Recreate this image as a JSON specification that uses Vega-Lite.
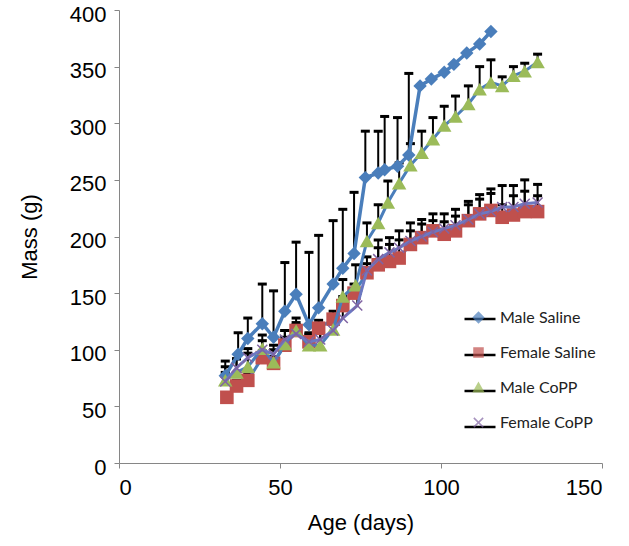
{
  "$schema": "https://vega.github.io/schema/vega-lite/v6.json",
  "width": 483,
  "height": 453,
  "autosize": {"type": "none"},
  "padding": {"left": 119, "top": 10, "right": 27, "bottom": 83},
  "background": "white",
  "config": {
    "view": {"stroke": null},
    "axis": {
      "grid": false,
      "domainColor": "#868686",
      "tickColor": "#868686",
      "tickSize": 5,
      "labelFont": "Liberation Sans",
      "labelFontSize": 22,
      "labelColor": "#000000",
      "titleFont": "Liberation Sans",
      "titleFontSize": 22,
      "titleFontWeight": "normal",
      "titleColor": "#000000"
    },
    "legend": {
      "labelFont": "Lato",
      "labelFontSize": 16,
      "labelColor": "#222222",
      "padding": 0
    }
  },
  "datasets": {
    "mass": [
      {"s": "Male Saline", "d": 33, "m": 77, "u": 90},
      {"s": "Male Saline", "d": 37, "m": 96, "u": 115},
      {"s": "Male Saline", "d": 40, "m": 110, "u": 128},
      {"s": "Male Saline", "d": 44.5, "m": 123, "u": 158},
      {"s": "Male Saline", "d": 48, "m": 111, "u": 152},
      {"s": "Male Saline", "d": 51.5, "m": 134, "u": 177},
      {"s": "Male Saline", "d": 55, "m": 149, "u": 195},
      {"s": "Male Saline", "d": 59, "m": 122, "u": 186},
      {"s": "Male Saline", "d": 62, "m": 137, "u": 201},
      {"s": "Male Saline", "d": 66.5, "m": 158, "u": 214},
      {"s": "Male Saline", "d": 69.5, "m": 172, "u": 224},
      {"s": "Male Saline", "d": 73, "m": 185, "u": 239},
      {"s": "Male Saline", "d": 76.5, "m": 252, "u": 293},
      {"s": "Male Saline", "d": 80.5, "m": 256, "u": 293},
      {"s": "Male Saline", "d": 82.5, "m": 259, "u": 306},
      {"s": "Male Saline", "d": 86.5, "m": 262, "u": 305},
      {"s": "Male Saline", "d": 90, "m": 272, "u": 344},
      {"s": "Male Saline", "d": 93.5, "m": 333, "u": null},
      {"s": "Male Saline", "d": 97, "m": 339, "u": null},
      {"s": "Male Saline", "d": 101, "m": 345, "u": null},
      {"s": "Male Saline", "d": 104, "m": 352, "u": null},
      {"s": "Male Saline", "d": 108, "m": 362, "u": null},
      {"s": "Male Saline", "d": 112, "m": 370, "u": null},
      {"s": "Male Saline", "d": 115.5, "m": 381, "u": null},

      {"s": "Female Saline", "d": 33.5, "m": 58, "u": 62},
      {"s": "Female Saline", "d": 36.5, "m": 68, "u": 73},
      {"s": "Female Saline", "d": 40, "m": 73, "u": 79},
      {"s": "Female Saline", "d": 44.5, "m": 93, "u": 99},
      {"s": "Female Saline", "d": 48, "m": 88, "u": 94},
      {"s": "Female Saline", "d": 51.5, "m": 104, "u": 111},
      {"s": "Female Saline", "d": 55, "m": 117, "u": 124},
      {"s": "Female Saline", "d": 59, "m": 107, "u": 113},
      {"s": "Female Saline", "d": 62, "m": 119, "u": 126},
      {"s": "Female Saline", "d": 66.5, "m": 127, "u": 134},
      {"s": "Female Saline", "d": 69.5, "m": 139, "u": 147},
      {"s": "Female Saline", "d": 73, "m": 150, "u": 158},
      {"s": "Female Saline", "d": 77, "m": 168, "u": 176},
      {"s": "Female Saline", "d": 80.5, "m": 175, "u": 190},
      {"s": "Female Saline", "d": 84, "m": 178, "u": 193},
      {"s": "Female Saline", "d": 87, "m": 181, "u": 197},
      {"s": "Female Saline", "d": 90.5, "m": 193, "u": 205},
      {"s": "Female Saline", "d": 94, "m": 199, "u": 211},
      {"s": "Female Saline", "d": 97.5, "m": 205, "u": 214},
      {"s": "Female Saline", "d": 101, "m": 202, "u": 213},
      {"s": "Female Saline", "d": 104.5, "m": 205, "u": 218},
      {"s": "Female Saline", "d": 108.5, "m": 214, "u": 228},
      {"s": "Female Saline", "d": 112, "m": 220, "u": 233},
      {"s": "Female Saline", "d": 115.5, "m": 223, "u": 238},
      {"s": "Female Saline", "d": 119, "m": 217, "u": 228},
      {"s": "Female Saline", "d": 122.5, "m": 219, "u": 236},
      {"s": "Female Saline", "d": 126, "m": 222, "u": 240},
      {"s": "Female Saline", "d": 130, "m": 222, "u": 236},

      {"s": "Male CoPP", "d": 33, "m": 73, "u": 85},
      {"s": "Male CoPP", "d": 36.5, "m": 80, "u": 92},
      {"s": "Male CoPP", "d": 40, "m": 85, "u": 97},
      {"s": "Male CoPP", "d": 44.5, "m": 101, "u": 113},
      {"s": "Male CoPP", "d": 48, "m": 89, "u": 100},
      {"s": "Male CoPP", "d": 51.5, "m": 105, "u": 117},
      {"s": "Male CoPP", "d": 55, "m": 117, "u": 128},
      {"s": "Male CoPP", "d": 59, "m": 104, "u": 114},
      {"s": "Male CoPP", "d": 62.5, "m": 104, "u": 115},
      {"s": "Male CoPP", "d": 66.5, "m": 118, "u": 131},
      {"s": "Male CoPP", "d": 69.5, "m": 147, "u": 162},
      {"s": "Male CoPP", "d": 73.5, "m": 157, "u": 175},
      {"s": "Male CoPP", "d": 77, "m": 196, "u": 212},
      {"s": "Male CoPP", "d": 80.5, "m": 212, "u": 228},
      {"s": "Male CoPP", "d": 83.5, "m": 230, "u": 249},
      {"s": "Male CoPP", "d": 87, "m": 247, "u": 265},
      {"s": "Male CoPP", "d": 90.5, "m": 263, "u": 282},
      {"s": "Male CoPP", "d": 94, "m": 274, "u": 293},
      {"s": "Male CoPP", "d": 97.5, "m": 286, "u": 305},
      {"s": "Male CoPP", "d": 101, "m": 298, "u": 315},
      {"s": "Male CoPP", "d": 104.5, "m": 306, "u": 324},
      {"s": "Male CoPP", "d": 108.5, "m": 317, "u": 333},
      {"s": "Male CoPP", "d": 112, "m": 330, "u": 350},
      {"s": "Male CoPP", "d": 115.5, "m": 336, "u": 356},
      {"s": "Male CoPP", "d": 119, "m": 333, "u": 341},
      {"s": "Male CoPP", "d": 122.5, "m": 342, "u": 350},
      {"s": "Male CoPP", "d": 126, "m": 346, "u": 353},
      {"s": "Male CoPP", "d": 130, "m": 354, "u": 361},

      {"s": "Female CoPP", "d": 33, "m": 72, "u": 80},
      {"s": "Female CoPP", "d": 36.5, "m": 84, "u": 92},
      {"s": "Female CoPP", "d": 40, "m": 93, "u": 101},
      {"s": "Female CoPP", "d": 44.5, "m": 100, "u": 108},
      {"s": "Female CoPP", "d": 48, "m": 96, "u": 104},
      {"s": "Female CoPP", "d": 51.5, "m": 109, "u": 117},
      {"s": "Female CoPP", "d": 55, "m": 114, "u": 122},
      {"s": "Female CoPP", "d": 59, "m": 107, "u": 115},
      {"s": "Female CoPP", "d": 62.5, "m": 109, "u": 117},
      {"s": "Female CoPP", "d": 66.5, "m": 117, "u": 126},
      {"s": "Female CoPP", "d": 69.5, "m": 128, "u": 138},
      {"s": "Female CoPP", "d": 74, "m": 139, "u": 150},
      {"s": "Female CoPP", "d": 77, "m": 170, "u": 182},
      {"s": "Female CoPP", "d": 80.5, "m": 180, "u": 197},
      {"s": "Female CoPP", "d": 84, "m": 186, "u": 199},
      {"s": "Female CoPP", "d": 87, "m": 190, "u": 205},
      {"s": "Female CoPP", "d": 90.5, "m": 196, "u": 212},
      {"s": "Female CoPP", "d": 94, "m": 200, "u": 215},
      {"s": "Female CoPP", "d": 97.5, "m": 204, "u": 220},
      {"s": "Female CoPP", "d": 101, "m": 207, "u": 220},
      {"s": "Female CoPP", "d": 104.5, "m": 210, "u": 224},
      {"s": "Female CoPP", "d": 108.5, "m": 215, "u": 231},
      {"s": "Female CoPP", "d": 112, "m": 220, "u": 237},
      {"s": "Female CoPP", "d": 115.5, "m": 222, "u": 242},
      {"s": "Female CoPP", "d": 119, "m": 226, "u": 245},
      {"s": "Female CoPP", "d": 122.5, "m": 226, "u": 245},
      {"s": "Female CoPP", "d": 126, "m": 229, "u": 250},
      {"s": "Female CoPP", "d": 130, "m": 230, "u": 246}
    ]
  },
  "data": {"name": "mass"},
  "encoding": {
    "x": {
      "field": "d", "type": "quantitative",
      "scale": {"domain": [0, 150], "nice": false, "zero": false},
      "axis": {"values": [0, 50, 100, 150], "title": "Age (days)", "labelPadding": 9, "titlePadding": 14}
    },
    "y": {
      "field": "m", "type": "quantitative",
      "scale": {"domain": [0, 400], "nice": false},
      "axis": {"values": [0, 50, 100, 150, 200, 250, 300, 350, 400], "title": "Mass (g)", "labelPadding": 8, "labelOffset": 4, "titlePadding": 28}
    }
  },
  "layer": [
    {
      "transform": [{"filter": {"field": "u", "valid": true}}],
      "mark": {"type": "rule", "color": "#000000", "strokeWidth": 2},
      "encoding": {"y2": {"field": "u"}}
    },
    {
      "transform": [{"filter": {"field": "u", "valid": true}}],
      "mark": {"type": "tick", "orient": "horizontal", "color": "#000000", "size": 9, "thickness": 3, "opacity": 1},
      "encoding": {"y": {"field": "u", "type": "quantitative"}}
    },
    {
      "transform": [{"filter": {"field": "s", "equal": "Male Saline"}}],
      "mark": {"type": "line", "color": "#4A7EBB", "strokeWidth": 3.5},
      "encoding": {"order": {"field": "d"}}
    },
    {
      "transform": [{"filter": {"field": "s", "equal": "Male Saline"}}],
      "mark": {"type": "point", "shape": "diamond", "filled": true, "color": "#4A7EBB", "size": 180, "opacity": 1}
    },
    {
      "transform": [{"filter": {"field": "s", "equal": "Female Saline"}}],
      "mark": {"type": "line", "color": "#4A7EBB", "strokeWidth": 3},
      "encoding": {"order": {"field": "d"}}
    },
    {
      "transform": [{"filter": {"field": "s", "equal": "Female Saline"}}],
      "mark": {"type": "point", "shape": "square", "filled": true, "color": "#C0504D", "size": 185, "opacity": 1}
    },
    {
      "transform": [{"filter": {"field": "s", "equal": "Male CoPP"}}],
      "mark": {"type": "line", "color": "#4A7EBB", "strokeWidth": 3},
      "encoding": {"order": {"field": "d"}}
    },
    {
      "transform": [{"filter": {"field": "s", "equal": "Male CoPP"}}],
      "mark": {"type": "point", "shape": "triangle-up", "filled": true, "color": "#9BBB59", "size": 210, "opacity": 1}
    },
    {
      "transform": [{"filter": {"field": "s", "equal": "Female CoPP"}}],
      "mark": {"type": "line", "color": "#6C78C2", "strokeWidth": 3},
      "encoding": {"order": {"field": "d"}}
    },
    {
      "transform": [{"filter": {"field": "s", "equal": "Female CoPP"}}],
      "mark": {"type": "point", "shape": "M-1,-1L1,1M1,-1L-1,1", "filled": false, "color": "#8064A2", "strokeWidth": 1.5, "size": 100, "opacity": 1}
    },
    {
      "mark": {"type": "point", "filled": false, "color": "#000000", "strokeWidth": 2.5, "opacity": 0},
      "encoding": {
        "shape": {
          "field": "s", "type": "nominal", "sort": null,
          "scale": {
            "range": ["M-1,0L1,0", "M-1,0L1,0", "M-1,0L1,0", "M-1,0L1,0"]
          },
          "legend": {
            "title": null, "orient": "none", "legendX": 344, "legendY": 292,
            "symbolSize": 961, "symbolStrokeWidth": 2.5, "symbolStrokeColor": "#000000",
            "labelOffset": 6, "rowPadding": 11, "labelColor": "transparent"
          }
        }
      }
    },
    {
      "mark": {"type": "point", "filled": true, "size": 0, "strokeWidth": 0},
      "encoding": {
        "color": {
          "field": "s", "type": "nominal",
          "scale": {
            "domain": ["Male Saline", "Female Saline", "Male CoPP", "Female CoPP"],
            "range": ["#4A7EBB", "#C0504D", "#9BBB59", "#8064A2"]
          },
          "legend": {
            "title": null, "orient": "none", "legendX": 344, "legendY": 292,
            "symbolSize": 961, "symbolStrokeWidth": 0, "labelOffset": 6, "rowPadding": 11
          }
        },
        "shape": {
          "field": "s", "type": "nominal",
          "scale": {
            "domain": ["Male Saline", "Female Saline", "Male CoPP", "Female CoPP"],
            "range": [
              "M0,-0.4L0.4,0L0,0.4L-0.4,0Z",
              "M-0.34,-0.34L0.34,-0.34L0.34,0.34L-0.34,0.34Z",
              "M0,-0.38L0.4,0.32L-0.4,0.32Z",
              "M-0.265,-0.335L0.335,0.265L0.265,0.335L-0.335,-0.265ZM0.265,-0.335L0.335,-0.265L-0.265,0.335L-0.335,0.265Z"
            ]
          },
          "legend": {
            "title": null, "orient": "none", "legendX": 344, "legendY": 292,
            "symbolSize": 961, "symbolStrokeWidth": 0, "labelOffset": 6, "rowPadding": 11
          }
        }
      }
    }
  ],
  "resolve": {"scale": {"shape": "independent", "color": "independent"}}
}
